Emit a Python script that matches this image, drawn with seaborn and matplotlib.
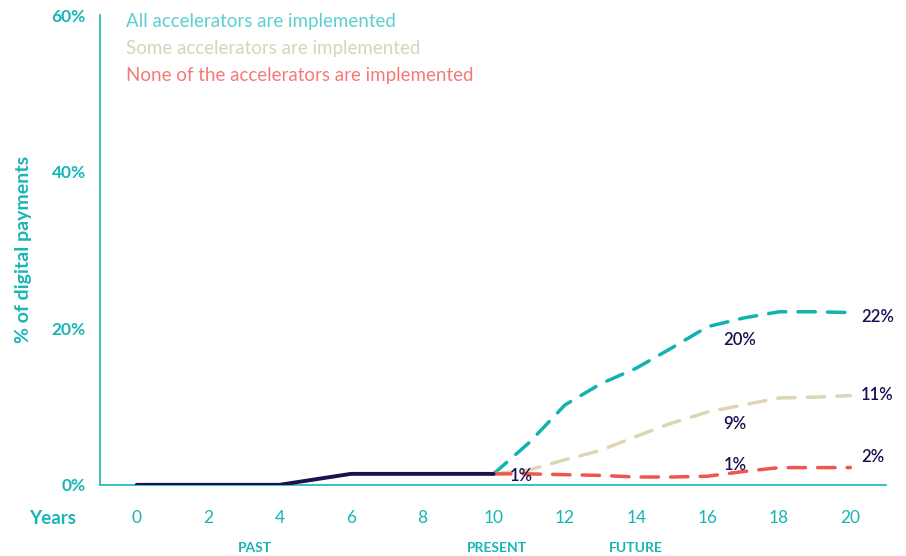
import matplotlib
matplotlib.use("Agg")
import matplotlib.pyplot as plt
import seaborn as sns
import pandas as pd

# Historical share of digital payments (years 0-10)
past_years = [0, 2, 4, 6, 8, 10]
past_share = [0.0, 0.0, 0.0, 1.4, 1.4, 1.4]

# Projected scenarios (years 10-20)
future_years = [10, 11, 12, 13, 14, 15, 16, 17, 18, 19, 20]
all_accel = [1.4, 5.4, 10.2, 12.9, 14.9, 17.5, 20.2, 21.3, 22.1, 22.1, 22.0]
some_accel = [1.4, 1.9, 3.2, 4.4, 6.2, 7.9, 9.3, 10.2, 11.1, 11.2, 11.4]
none_accel = [1.4, 1.4, 1.3, 1.2, 1.0, 1.0, 1.1, 1.7, 2.2, 2.2, 2.2]

series_names = ["All accelerators are implemented",
                "Some accelerators are implemented",
                "None of the accelerators are implemented"]

x_ticks = [0, 2, 4, 6, 8, 10, 12, 14, 16, 18, 20]
y_ticks = [0, 20, 40, 60]
period_labels = ["PAST", "PRESENT", "FUTURE"]
period_pos = [3.3, 10.1, 14.0]

TEAL = "#19b5b5"
LINE_TEAL = "#10b3b0"
BEIGE = "#ddd6b6"
RED = "#f0564f"
NAVY = "#1b1150"

sns.set_style("white")
plt.rcParams["font.family"] = ["Lato", "DejaVu Sans"]

fig = plt.figure(figsize=(9.06, 5.56), dpi=100)
ax = fig.add_axes([0.110, 0.128, 0.868, 0.845])

future = pd.DataFrame({
    "year": future_years * 3,
    "share": all_accel + some_accel + none_accel,
    "scenario": [series_names[0]] * len(future_years)
    + [series_names[1]] * len(future_years)
    + [series_names[2]] * len(future_years),
})
colors = [LINE_TEAL, BEIGE, RED]
for name, col in zip(series_names, colors):
    sub = future[future["scenario"] == name]
    sns.lineplot(data=sub, x="year", y="share", ax=ax, color=col,
                 linewidth=2.5, dashes=False, legend=False, zorder=2)
    ax.lines[-1].set_dashes([5, 3.5])
    ax.lines[-1].set_dash_capstyle("round")

past = pd.DataFrame({"year": past_years, "share": past_share})
sns.lineplot(data=past, x="year", y="share", ax=ax, color=NAVY,
             linewidth=2.8, legend=False, zorder=3)
ax.lines[-1].set_solid_capstyle("round")

# Value annotations: (x, value, vertical offset)
ann = [
    (10.45, past_share[-1], -0.25),
    (16.45, all_accel[6], -1.7),
    (20.3, all_accel[-1], -0.6),
    (16.45, some_accel[6], -1.5),
    (20.3, some_accel[-1], 0.1),
    (16.45, none_accel[6], 1.4),
    (20.3, none_accel[-1], 1.3),
]
for x, v, dy in ann:
    ax.text(x, v + dy, f"{v:.0f}%", color=NAVY, fontsize=12,
            fontweight="semibold", ha="left", va="center", zorder=4)

ax.set_xlim(-1.04, 21.0)
ax.set_ylim(0, 60)
ax.set_xticks(x_ticks)
ax.set_xticklabels([str(t) for t in x_ticks])
ax.set_yticks(y_ticks)
ax.set_yticklabels([f"{t}%" for t in y_ticks])
ax.tick_params(axis="both", length=0, colors=TEAL, labelsize=12.5)
ax.tick_params(axis="x", pad=18)
ax.tick_params(axis="y", pad=10)
for lab in ax.get_yticklabels():
    lab.set_fontweight("bold")
    lab.set_color(TEAL)
for lab in ax.get_xticklabels():
    lab.set_color(TEAL)
ax.set_xlabel("")
ax.set_ylabel("% of digital payments", color=TEAL, fontsize=14,
              fontweight="bold", labelpad=14)

sns.despine(ax=ax)
for side in ["left", "bottom"]:
    ax.spines[side].set_color(TEAL)
    ax.spines[side].set_linewidth(1.2)

ax.text(-1.7, -0.071, "Years", transform=ax.get_xaxis_transform(),
        color=TEAL, fontsize=13.5, fontweight="bold", ha="right", va="center")

for lab, pos in zip(period_labels, period_pos):
    ax.text(pos, -0.135, lab, transform=ax.get_xaxis_transform(),
            color=TEAL, fontsize=10, fontweight="bold", ha="center", va="center")

# Scenario legend as coloured text
for i, (name, col) in enumerate(zip(series_names,
                                    ["#5ccfcf", "#d9d3bd", "#f37b76"])):
    ax.text(-0.29, 59.2 - i * 3.45, name, color=col, fontsize=13.5,
            ha="left", va="center")

fig.savefig("out.png", dpi=100)
